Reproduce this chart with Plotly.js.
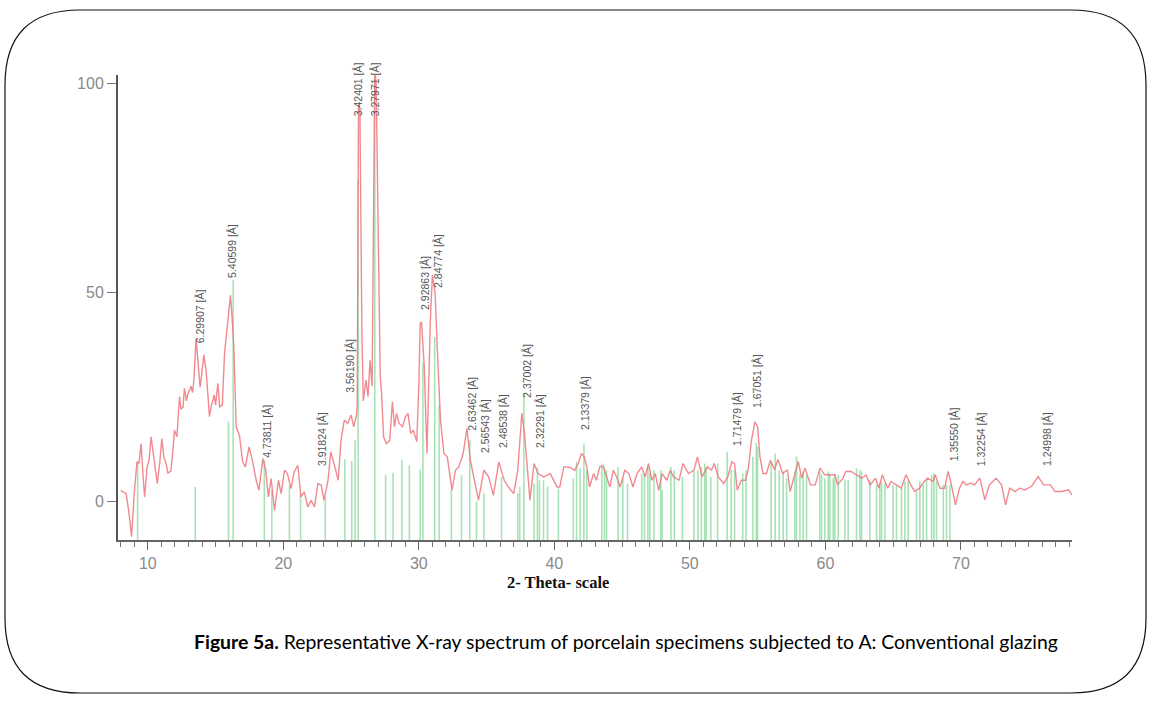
<!DOCTYPE html>
<html>
<head>
<meta charset="utf-8">
<script src="https://cdn.plot.ly/plotly-3.0.1.min.js"></script>
<style>
html,body{margin:0;padding:0;background:#fff;}
#chart{width:1153px;height:706px;}
</style>
</head>
<body>
<div id="chart"></div>
<script>
// ---- measured pattern (red) ----
const twoTheta = [8.0,8.2,8.4,8.6,8.8,9.0,9.2,9.35,9.5,9.65,9.76,9.95,10.1,10.24,10.4,10.5,10.7,10.9,11.03,11.2,11.35,11.48,11.7,11.85,11.97,12.15,12.34,12.45,12.6,12.7,12.85,12.95,13.1,13.2,13.3,13.4,13.56,13.65,13.75,13.86,14.0,14.13,14.3,14.45,14.55,14.7,14.8,14.9,15.0,15.17,15.3,15.5,15.66,15.85,16.03,16.1,16.2,16.35,16.52,16.76,17.0,17.2,17.47,17.7,18.0,18.2,18.49,18.7,18.9,19.1,19.35,19.64,19.84,20.09,20.3,20.57,20.8,21.07,21.3,21.55,21.8,22.05,22.3,22.55,22.8,23.0,23.3,23.5,23.8,24.05,24.26,24.5,24.75,25.0,25.2,25.4,25.45,25.55,25.65,25.8,25.9,26.1,26.25,26.4,26.55,26.65,26.75,26.85,27.0,27.15,27.25,27.4,27.6,27.85,28.05,28.2,28.35,28.55,28.8,29.0,29.2,29.4,29.6,29.85,30.0,30.1,30.2,30.4,30.6,30.75,30.85,31.0,31.2,31.4,31.6,31.85,32.1,32.45,32.7,32.95,33.27,33.55,33.8,34.1,34.4,34.8,35.15,35.5,35.9,36.3,36.6,37.0,37.3,37.6,37.8,38.0,38.2,38.5,38.8,39.2,39.7,40.2,40.4,40.7,40.9,41.2,41.5,41.76,42.0,42.2,42.4,42.6,42.9,43.1,43.35,43.6,43.85,44.1,44.35,44.6,44.85,45.2,45.5,45.8,46.1,46.45,46.7,46.95,47.2,47.45,47.7,47.95,48.3,48.55,48.8,49.2,49.5,49.9,50.3,50.56,50.9,51.3,51.6,51.8,52.1,52.5,52.8,53.1,53.3,53.5,53.8,54.1,54.3,54.55,54.8,55.0,55.17,55.4,55.65,55.95,56.25,56.5,56.85,57.2,57.4,57.8,58.0,58.25,58.5,58.9,59.25,59.6,59.95,60.3,60.7,60.9,61.3,61.5,61.9,62.3,62.7,63.0,63.3,63.7,63.95,64.2,64.6,64.85,65.2,65.6,65.95,66.3,66.6,66.95,67.3,67.55,67.95,68.1,68.45,68.8,69.06,69.3,69.6,69.9,70.15,70.4,70.7,71.0,71.4,71.77,72.1,72.6,73.0,73.3,73.6,74.0,74.35,74.7,75.2,75.7,76.1,76.6,76.95,77.45,77.95,78.2];
const intensity = [2.6,2.2,1.8,-2.5,-8.5,1.9,9.4,9.0,13.8,6,1.0,8.2,10,15.4,11,8.2,4.2,9.8,15.0,10.3,9,6.7,7.2,12,17,15.4,25,22,22.5,27,24,25.6,27,27.5,26,29,38.9,35.3,30,27.3,31,35,31.4,24,20.2,23,24.2,25.4,23,28.2,22.6,23,35.3,42,48.1,49.3,45,36.9,17.8,15.8,9.4,8.2,13,10,5.0,2.6,10.2,7.4,1.0,5.4,-2.2,5,1.8,7.4,6.6,3,7,8.6,1.0,2.2,-1.4,0.2,-1.4,4.2,3.8,0.2,5.0,11.8,8.2,5,14.6,19.4,18.6,20.6,17.8,20.6,22.6,95,94,40,24,29,25,33.7,27.5,60,103,100,60,30,25.8,15.4,13.8,14.5,23.8,17.8,21,18.6,17.8,20.1,21,16.2,17,14.2,28,42.5,42.9,32.1,11.4,30,43.3,54.1,49.7,33.7,19.4,11.4,10.6,2.6,7.4,8.2,11.4,17.4,9.8,5,0.2,7.4,5.8,1.4,9.4,5,3.4,1.8,7.4,21,16.2,8.2,0.2,9,6.6,5.8,6.6,3.4,3.4,8.2,8.2,8,7.4,9,11.4,10.6,8.2,3.4,6.6,5,8.2,8.4,5.8,3.4,7.4,5.8,3.4,7.4,6.6,3.4,6.6,8.2,5.8,9,5,6.6,2.6,6.6,5,7.4,5.8,5,9,6.6,7.4,10.6,5.8,8.2,7.4,9,5.8,4.2,5.8,9.4,9,2.6,5,5,7.4,14.6,19,17.8,10.6,6.6,6.6,9.8,7.5,10,6.6,7.5,2.3,7.1,9.5,5.5,7.9,3.9,3.9,7.9,6.3,6.3,6.3,3.9,5.5,7.1,7.1,6.3,5.5,6.3,3.9,5.5,3.1,6.3,3.1,4.7,3.9,3.1,6.3,3.9,2.3,3.1,4.7,5.5,4.7,6.3,3.1,3.1,7.1,3.9,-0.9,3.1,4.7,3.9,4.3,3.9,5.5,0.3,3.9,5.5,3.9,-0.9,3.1,2.3,3.1,2.7,3.5,5.9,3.9,3.9,2.3,2.3,2.7,1.5];

// ---- reference pattern sticks (green) ----
const stickPos = [9.25,13.5,15.95,16.3,18.6,19.15,20.45,21.27,23.1,24.54,25.05,25.3,25.52,26.75,27.55,28.1,28.75,29.3,30.1,30.3,31.17,31.5,32.4,33.15,33.76,34.25,34.8,36.1,37.3,37.45,37.75,38.5,38.75,38.9,39.2,39.5,40.3,41.4,41.64,41.9,42.18,42.4,43.5,43.7,43.85,44.7,45.05,45.4,46.45,46.65,46.9,47.05,47.35,47.85,47.95,48.6,48.85,49.45,50.3,50.6,50.85,51.1,51.2,51.55,52.05,52.75,53.05,53.3,53.9,54.15,54.65,54.9,55.0,56.0,56.3,56.6,56.89,57.14,57.75,57.87,58.12,58.36,58.61,59.59,59.72,59.96,60.21,60.33,60.58,60.7,60.95,61.44,61.68,62.3,62.55,62.67,63.28,63.78,64.02,64.15,64.39,65.0,65.25,65.62,65.87,66.11,66.73,66.97,67.22,67.47,67.84,68.01,68.2,68.7,68.94,69.19];
const stickTop = [9.4,3.4,19,53,9.8,2.6,3.8,1.9,1.0,10,9.6,14.6,77,101,6.2,6.8,9.8,8.6,7.5,33,39.3,23,2.6,6.2,14.6,0,1.9,5.8,1.9,3.4,25.8,4.2,8,5,5,3.5,3,5.5,9.4,7.8,13.8,7.4,9,8.2,7.4,8.2,5.8,4.2,6.6,6.6,8.2,6.6,7.4,7.4,2.6,8.2,7.4,5.8,7.4,7.4,8.2,9,8.2,5.8,9,11.8,7.4,7.4,6.6,7.4,10.6,14,13,9,11.4,7.4,7.1,5.5,7.1,10.7,6.3,7.1,6.3,7.1,6.3,5.5,7.1,6.3,5.5,6.3,6.3,5.1,5.1,7.9,7.5,7.1,5.1,3.9,4.3,4.7,4.3,3.9,3.9,3.1,4.7,4.7,2.3,4.7,3.9,5.5,6.3,6.7,4.7,3.9,3.9,3.9];

// ---- peak labels ----
const labelText = ['6.29907 [Å]','5.40599 [Å]','4.73811 [Å]','3.91824 [Å]','3.56190 [Å]','3.42401 [Å]','3.27971 [Å]','2.92863 [Å]','2.84774 [Å]','2.63462 [Å]','2.56543 [Å]','2.48538 [Å]','2.37002 [Å]','2.32291 [Å]','2.13379 [Å]','1.71479 [Å]','1.67051 [Å]','1.35550 [Å]','1.32254 [Å]','1.24998 [Å]'];
const labelX = [13.85,16.2,18.8,22.85,24.9,25.57,26.83,30.5,31.4,33.9,34.87,36.2,37.97,38.93,42.25,53.47,54.95,69.5,71.5,76.35];
const labelY = [37.3,52.9,9.8,7.9,25.4,91.6,91.6,45.2,50.5,16.3,11,12.2,24.2,12.2,16.5,12.7,21.8,9.1,7.9,7.9];

const xRange = [7.8, 78.2];
const yRange = [-9.3, 102];
const yTicks = [0, 50, 100];

const xTitle = '2- Theta- scale';
const caption = '<b>Figure 5a.</b> Representative X-ray spectrum of porcelain specimens subjected to A: Conventional glazing';

// sticks from the axis floor up to their tops
const gx = [], gy = [];
stickPos.forEach((x, i) => { gx.push(x, x, null); gy.push(yRange[0], stickTop[i], null); });

const traces = [
  {x: gx, y: gy, type: 'scatter', mode: 'lines', line: {color: 'rgba(130,215,150,0.7)', width: 1.6}, hoverinfo: 'skip', showlegend: false, connectgaps: false},
  {x: twoTheta, y: intensity, type: 'scatter', mode: 'lines', line: {color: 'rgba(238,118,125,0.85)', width: 1.4}, showlegend: false}
];

// plot-area geometry (pixels) for paper conversions
const L = 118, T = 75, W = 954, H = 465;
const xp = px => (px - L) / W;
const yp = py => (T + H - py) / H;

const bx0 = 5, bx1 = 1146, by0 = 10, by1 = 693, r = 75;
const borderPath = [
  `M ${xp(bx0 + r)},${yp(by0)}`,
  `L ${xp(bx1 - r)},${yp(by0)}`,
  `Q ${xp(bx1)},${yp(by0)} ${xp(bx1)},${yp(by0 + r)}`,
  `L ${xp(bx1)},${yp(by1 - r)}`,
  `Q ${xp(bx1)},${yp(by1)} ${xp(bx1 - r)},${yp(by1)}`,
  `L ${xp(bx0 + r)},${yp(by1)}`,
  `Q ${xp(bx0)},${yp(by1)} ${xp(bx0)},${yp(by1 - r)}`,
  `L ${xp(bx0)},${yp(by0 + r)}`,
  `Q ${xp(bx0)},${yp(by0)} ${xp(bx0 + r)},${yp(by0)} Z`
].join(' ');

const annotations = labelText.map((t, i) => ({
  x: labelX[i], y: labelY[i], xref: 'x', yref: 'y', text: t, textangle: -90,
  showarrow: false, xanchor: 'center', yanchor: 'bottom',
  font: {family: 'Liberation Sans Narrow, Arial Narrow, Liberation Sans, sans-serif', size: 10.5, color: '#555'}
}));
annotations.push({
  x: xp(558), y: yp(582), xref: 'paper', yref: 'paper', text: '<b>' + xTitle + '</b>', showarrow: false,
  xanchor: 'center', yanchor: 'middle', font: {family: 'Liberation Serif, serif', size: 16.5, color: '#111'}
});
annotations.push({
  x: xp(625.5), y: yp(641), xref: 'paper', yref: 'paper', text: caption, showarrow: false,
  xanchor: 'center', yanchor: 'middle', font: {family: 'Lato, sans-serif', size: 19.4, color: '#000'}
});

const layout = {
  width: 1153, height: 706,
  margin: {l: L, r: 1153 - L - W, t: T, b: 706 - T - H, pad: 0},
  paper_bgcolor: '#fff', plot_bgcolor: '#fff',
  showlegend: false,
  xaxis: {
    range: xRange, showgrid: false, zeroline: false,
    showline: true, linecolor: '#666', linewidth: 2,
    ticks: 'outside', ticklen: 8, tickwidth: 1.2, tickcolor: '#666',
    tick0: 0, dtick: 10,
    minor: {ticks: 'outside', dtick: 1, ticklen: 5, tickcolor: '#777', tickwidth: 1},
    tickfont: {family: 'Liberation Sans, Arial, sans-serif', size: 16, color: '#8a8a8a'}
  },
  yaxis: {
    range: yRange, showgrid: false, zeroline: false,
    showline: true, linecolor: '#555', linewidth: 2,
    ticks: 'outside', ticklen: 9, tickwidth: 1.2, tickcolor: '#777',
    tickvals: yTicks, ticktext: yTicks.map(String),
    tickfont: {family: 'Liberation Sans, Arial, sans-serif', size: 16, color: '#8a8a8a'}
  },
  shapes: [{type: 'path', xref: 'paper', yref: 'paper', path: borderPath, line: {color: '#111', width: 1.2}, layer: 'above'}],
  annotations: annotations
};

Plotly.newPlot('chart', traces, layout, {displayModeBar: false, staticPlot: true});
</script>
</body>
</html>
